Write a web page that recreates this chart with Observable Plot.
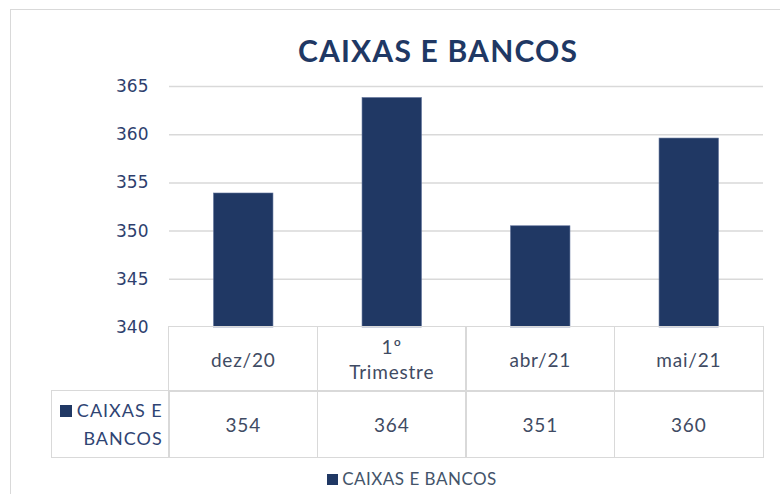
<!DOCTYPE html>
<html>
<head>
<meta charset="utf-8">
<script src="https://cdn.jsdelivr.net/npm/d3@7"></script>
<script src="https://cdn.jsdelivr.net/npm/@observablehq/plot@0.6"></script>
<style>
  html, body { margin: 0; padding: 0; background: #fff; }
  #wrap { position: relative; width: 780px; height: 494px; overflow: hidden; background: #fff; }
  #frame { position: absolute; left: 10px; top: 9px; width: 1000px; height: 1000px; border: 1.5px solid #D9D9D9; box-sizing: border-box; }
  #title { position: absolute; left: 0; width: 876px; top: 30px; text-align: center; font-family: Lato, sans-serif; font-weight: 700; font-size: 30px; letter-spacing: 1.2px; color: #1F3864; line-height: 40px; }
  #chart { position: absolute; left: 0; top: 0; }
  .cell { position: absolute; box-sizing: border-box; border: 1.5px solid #D9D9D9; display: flex; align-items: center; justify-content: center; text-align: center; font-family: Lato, sans-serif; font-size: 19px; letter-spacing: 0.8px; color: #3F4B63; white-space: pre-line; line-height: 25px; }
  .lab { justify-content: flex-end; text-align: right; font-size: 18px; letter-spacing: 1px; color: #2F4473; padding-right: 6px; line-height: 28px; }
  .sw { display: inline-block; width: 12px; height: 12px; background: #203864; margin-right: 5px; vertical-align: 0px; }
  #legend { position: absolute; left: 0; width: 824px; top: 469px; text-align: center; font-family: Lato, sans-serif; font-size: 17px; letter-spacing: 0.5px; color: #44546A; line-height: 20px; }
  #legend .sw { width: 11px; height: 11px; margin-right: 4px; }
</style>
</head>
<body>
<div id="wrap">
  <div id="frame"></div>
  <div id="title"></div>
</div>
<script>
// ---- data ----
const seriesName = "CAIXAS E BANCOS";
const categories = ["dez/20", "1º\nTrimestre", "abr/21", "mai/21"];
const values = [353.9, 363.8, 350.5, 359.6];
const yTicks = [340, 345, 350, 355, 360, 365];
const yDomain = [340, 365];

const data = categories.map((c, i) => ({cat: c, value: values[i]}));

const wrap = document.getElementById("wrap");
document.getElementById("title").textContent = seriesName;

const chart = Plot.plot({
  width: 780,
  height: 330,
  marginTop: 86,
  marginBottom: 3,
  marginLeft: 169,
  marginRight: 17,
  style: {color: "#2E3F6E", fontFamily: "DejaVu Sans, sans-serif", background: "transparent", overflow: "visible"},
  x: {domain: categories, paddingInner: 0.6, paddingOuter: 0.3, round: false, axis: null},
  y: {domain: yDomain, axis: null},
  marks: [
    Plot.ruleY(yTicks.slice(1), {stroke: "#D9D9D9", strokeWidth: 1.5}),
    Plot.barY(data, {x: "cat", y1: yDomain[0], y2: "value", fill: "#203864", stroke: "#5A6D96", strokeWidth: 0.6}),
    Plot.axisY({ticks: yTicks, tickSize: 0, tickPadding: 21, fontSize: 17, label: null, tickFormat: d3.format("d")})
  ]
});
chart.id = "chart";
wrap.appendChild(chart);

// ---- data table below the plot, aligned to the x scale ----
const xs = chart.scale("x");
const ys = chart.scale("y");
const step = xs.step, bw = xs.bandwidth;
const top0 = ys.apply(yDomain[0]);
const h1 = 64, h2 = 66;
const labelLeft = 52;
const fmt = d3.format(".0f");

function cell(left, top, width, height, html, cls) {
  const d = document.createElement("div");
  d.className = "cell" + (cls ? " " + cls : "");
  d.style.left = (left - 0.75) + "px";
  d.style.top = (top - 0.75) + "px";
  d.style.width = (width + 1.5) + "px";
  d.style.height = (height + 1.5) + "px";
  d.innerHTML = html;
  wrap.appendChild(d);
}
categories.forEach((c, i) => {
  const left = xs.apply(c) + bw / 2 - step / 2;
  cell(left, top0, step, h1, c.replace("\n", "<br>"));
  cell(left, top0 + h1, step, h2, fmt(values[i]));
});
const firstLeft = xs.apply(categories[0]) + bw / 2 - step / 2;
cell(labelLeft, top0 + h1, firstLeft - labelLeft, h2,
  '<div><span class="sw"></span>CAIXAS E<br>BANCOS</div>', "lab");

// ---- legend ----
const lg = document.createElement("div");
lg.id = "legend";
lg.innerHTML = '<span class="sw"></span>' + seriesName;
wrap.appendChild(lg);
</script>
</body>
</html>
